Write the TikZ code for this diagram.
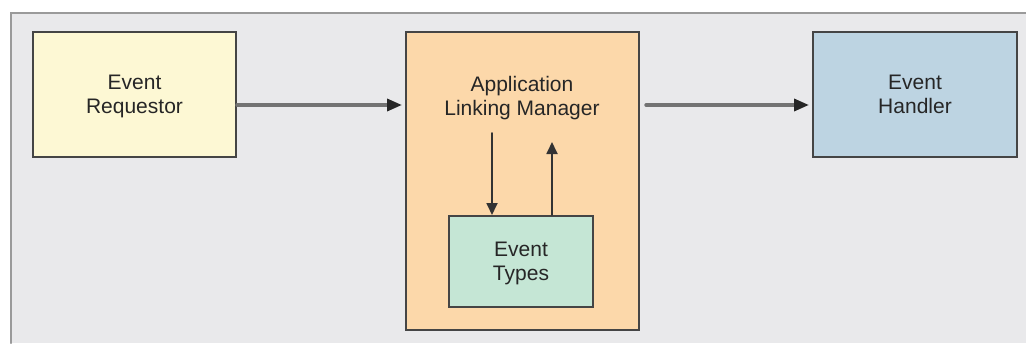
\documentclass[tikz,border=0pt]{standalone}
\usepackage{fontspec}
\setmainfont{Liberation Sans}
\usetikzlibrary{arrows.meta}

\definecolor{panel}{HTML}{E9E9EB}
\definecolor{frameline}{HTML}{9A9A9A}
\definecolor{boxline}{HTML}{454545}
\definecolor{reqfill}{HTML}{FDF8D4}
\definecolor{almfill}{HTML}{FCD8AA}
\definecolor{etfill}{HTML}{C5E6D5}
\definecolor{hdlfill}{HTML}{BDD4E2}

\begin{document}
\begin{tikzpicture}[x=1pt, y=-1pt, line cap=round,
                    >={Triangle[length=15pt,width=12pt,color=black!85]},
                    box/.style={draw=boxline, line width=2pt, inner sep=0pt,
                                align=center, text=black!85, text depth=-1pt,
                                font=\fontsize{21}{24}\selectfont},
                    flow/.style={->, draw=black!55, line width=3.4pt,
                                 shorten >=3pt},
                    link/.style={->, draw=black!80, line width=1.8pt,
                                 >={Triangle[length=12pt,width=11pt]}}
                   ]

        % panel
        \useasboundingbox (0,0) rectangle (1026,343);
        \fill [white] (0,0) rectangle (1026,343);
        \fill [panel] (11,13) rectangle (1026,343);
        \draw [frameline, line width=2.5pt] (11,343) -- (11,13) -- (1026,13);

        % boxes
        \node [box, fill=reqfill, minimum width=203pt, minimum height=125pt]
              (req) at (134.5,94.5) {Event\\Requestor};
        \node [box, fill=almfill, minimum width=233pt, minimum height=298pt]
              (alm) at (522.5,181) {};
        \node [box, draw=none] (almtxt) at (522,95.5) {Application\\Linking Manager};
        \node [box, fill=etfill, minimum width=144pt, minimum height=91pt]
              (et) at (521,261.5) {Event\\Types};
        \node [box, fill=hdlfill, minimum width=204pt, minimum height=125pt]
              (hdl) at (915,94.5) {Event\\Handler};

        % connectors
        \coordinate (mid) at ([yshift=-10.5pt]req.east);
        \draw [flow] (mid) -- (mid -| alm.west);
        \draw [flow] ([xshift=6pt]mid -| alm.east) -- (mid -| hdl.west);

        \coordinate (dn) at (492,133);
        \coordinate (up) at (552,142);
        \draw [link] (dn) -- (dn |- et.north);
        \draw [link] (up |- et.north) -- (up);
\end{tikzpicture}
\end{document}
